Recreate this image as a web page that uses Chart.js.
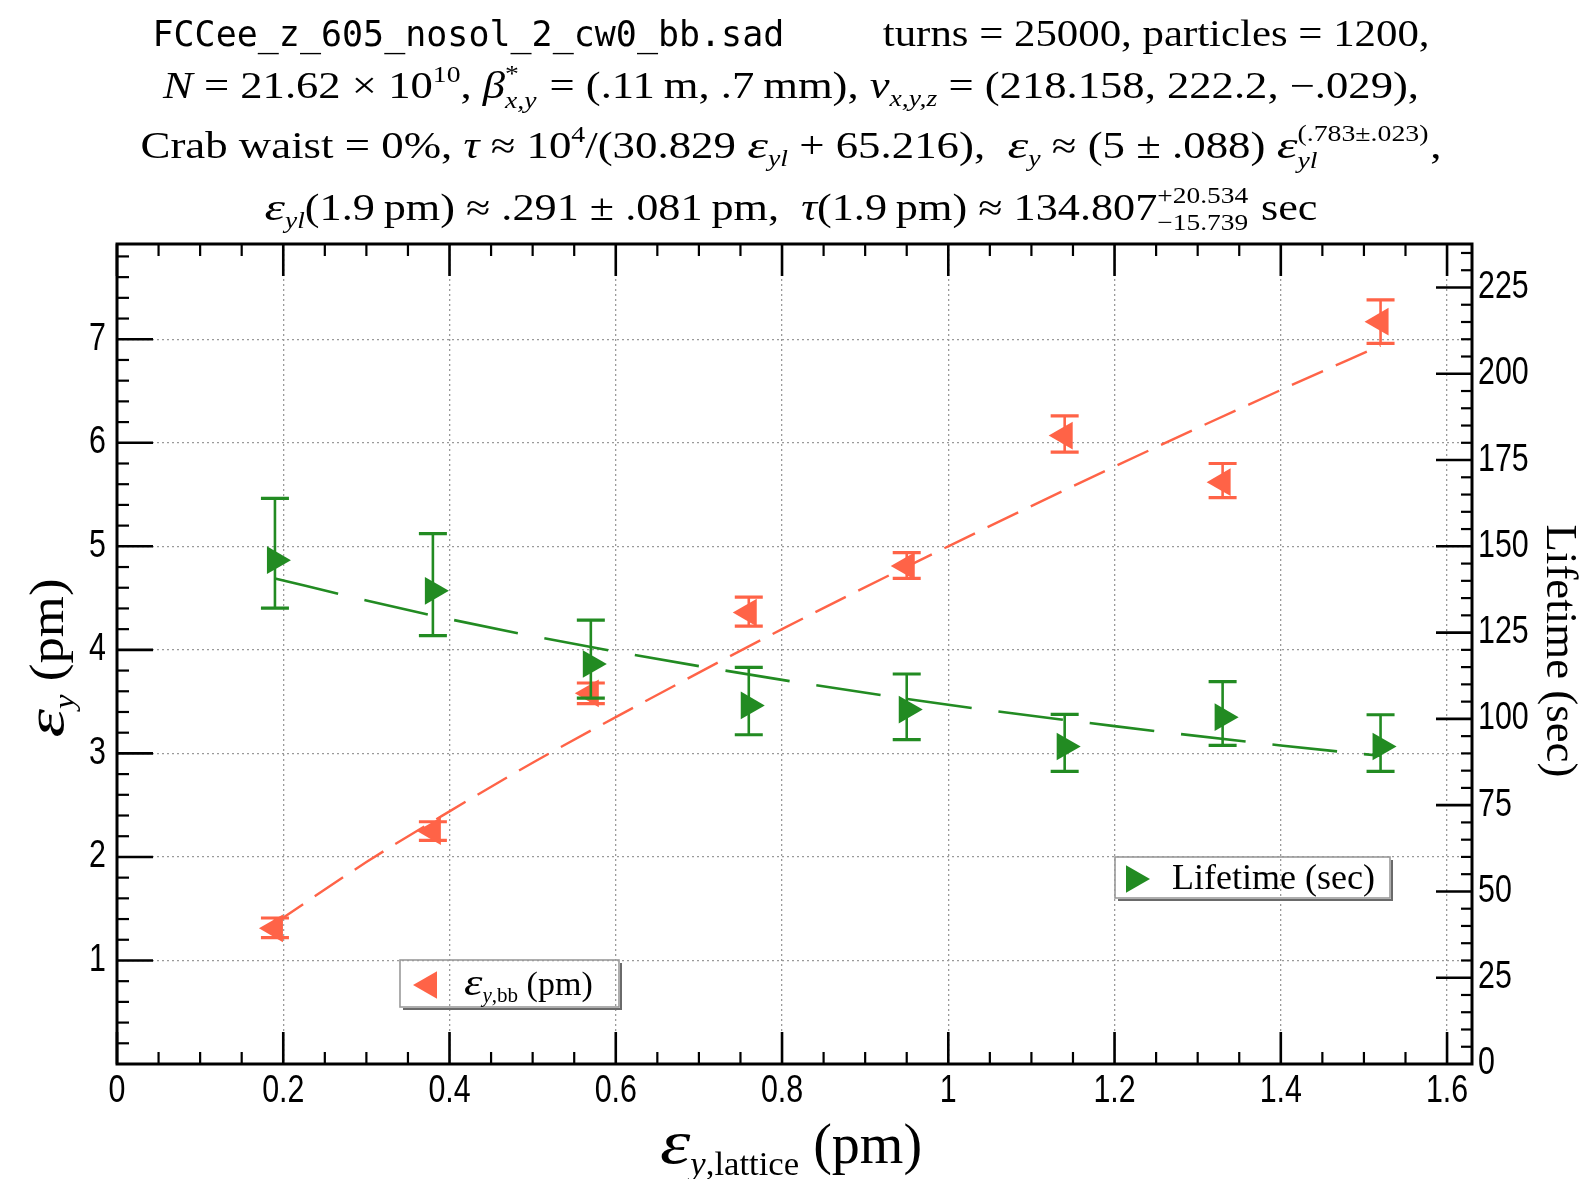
<!DOCTYPE html>
<html><head><meta charset="utf-8">
<script src="https://cdn.jsdelivr.net/npm/chart.js@4.4.1/dist/chart.umd.min.js"></script>
<style>html,body{margin:0;padding:0;background:#fff;overflow:hidden}#wrap{width:1579px;height:1179px;position:relative}</style>
</head><body><div id="wrap"><canvas id="c" width="1579" height="1179"></canvas></div>
<script>
// ---------------- data ----------------
const latticeEps = [0.19, 0.38, 0.57, 0.76, 0.95, 1.14, 1.33, 1.52];
const epsBB      = [1.31, 2.25, 3.58, 4.36, 4.81, 6.07, 5.62, 7.17];
const epsBBHi    = [1.41, 2.34, 3.68, 4.51, 4.94, 6.26, 5.80, 7.38];
const epsBBLo    = [1.22, 2.16, 3.48, 4.23, 4.69, 5.91, 5.47, 6.96];
const lifetime   = [146.0, 137.1, 115.9, 103.9, 102.7, 92.0, 100.5, 92.0];
const lifetimeHi = [163.9, 153.7, 128.6, 114.9, 113.0, 101.3, 110.8, 101.2];
const lifetimeLo = [132.1, 124.1, 106.0, 95.4, 94.0, 84.8, 92.3, 84.8];
const fitX        = [0.19, 0.3, 0.4, 0.5, 0.6, 0.8, 1.0, 1.2, 1.4, 1.52];
const fitEps      = [1.36, 1.95, 2.44, 2.91, 3.35, 4.20, 5.00, 5.77, 6.51, 6.94];
const fitLifetime = [140.7, 134.3, 128.9, 124.0, 119.5, 111.3, 104.1, 97.9, 92.3, 89.3];
const xTicks      = [0, 0.2, 0.4, 0.6, 0.8, 1, 1.2, 1.4, 1.6];
const xTickLabels = ['0', '0.2', '0.4', '0.6', '0.8', '1', '1.2', '1.4', '1.6'];
const yTicks      = [1, 2, 3, 4, 5, 6, 7];
const yTickLabels = ['1', '2', '3', '4', '5', '6', '7'];
const y2Ticks      = [0, 25, 50, 75, 100, 125, 150, 175, 200, 225];
const y2TickLabels = ['0', '25', '50', '75', '100', '125', '150', '175', '200', '225'];
const xRange = [0, 1.63], yRange = [0, 7.92], y2Range = [0, 237.6];
const seriesNames = ['ε_y,bb (pm)', 'Lifetime (sec)'];

// text pieces (i: italic, m: monospace, p: superscript, b: subscript, k: size factor, w: width stretch, gap: spacer in em)
const EPS_T = {t:'ε', i:1, k:1.05, w:1.12};
const titleLines = [
  [{t:'FCCee_z_605_nosol_2_cw0_bb.sad', m:1, k:0.95, w:0.86}, {gap:2.3}, {t:'turns = 25000, particles = 1200,'}],
  [{t:'N', i:1}, {t:' = 21.62 × 10'}, {t:'10', p:1}, {t:', '}, {t:'β', i:1}, {sup:'*', sub:'x,y', subI:1}, {t:' = (.11\u2009m, .7\u2009mm), '}, {t:'ν', i:1}, {t:'x,y,z', i:1, b:1}, {t:' = (218.158, 222.2, −.029),'}],
  [{t:'Crab waist = 0%, '}, {t:'τ', i:1}, {t:' ≈ 10'}, {t:'4', p:1}, {t:'/(30.829 '}, EPS_T, {t:'yl', i:1, b:1}, {t:' + 65.216),  '}, EPS_T, {t:'y', i:1, b:1}, {t:' ≈ (5 ± .088) '}, EPS_T, {sup:'(.783±.023)', sub:'yl', subI:1}, {t:','}],
  [EPS_T, {t:'yl', i:1, b:1}, {t:'(1.9\u2009pm) ≈ .291 ± .081\u2009pm,  '}, {t:'τ', i:1}, {t:'(1.9\u2009pm) ≈ 134.807'}, {sup:'+20.534', sub:'−15.739'}, {t:' sec'}]
];
const EPS_A = {t:'ε', i:1, k:1.1, w:1.25};
const xTitle  = [EPS_A, {t:'y', i:1, b:1}, {t:',lattice', b:1}, {t:' (pm)'}];
const yTitle  = [EPS_A, {t:'y', i:1, b:1}, {t:' (pm)'}];
const y2Title = [{t:'Lifetime (sec)'}];
const leg1 = [EPS_A, {t:'y', i:1, b:1}, {t:',bb', b:1}, {t:' (pm)'}];
const leg2 = [{t:'Lifetime (sec)'}];

// ---------------- style ----------------
const RED = '#FF6347', GREEN = '#228B22';
const SERIF = '"Liberation Serif","Times New Roman",serif';
const MONO = '"DejaVu Sans Mono",monospace';
const SANS = '"Liberation Sans",Arial,sans-serif';

function segFont(s, sz, it) { return (it ? 'italic ' : '') + sz.toFixed(2) + 'px ' + (s.m ? MONO : SERIF); }
function layoutRich(ctx, segs, size) {
  let w = 0; const items = [];
  for (const s of segs) {
    if (s.gap !== undefined) { w += s.gap * size; continue; }
    if (s.sup !== undefined) {
      const ss = size * 0.62;
      ctx.font = (s.supI ? 'italic ' : '') + ss + 'px ' + SERIF; const w1 = ctx.measureText(s.sup).width;
      ctx.font = (s.subI ? 'italic ' : '') + ss + 'px ' + SERIF; const w2 = ctx.measureText(s.sub).width;
      items.push({s, x: w, ss}); w += Math.max(w1, w2) + size * 0.04;
    } else {
      const sz = ((s.p || s.b) ? size * 0.62 : size) * (s.k || 1);
      ctx.font = segFont(s, sz, s.i); const ww = ctx.measureText(s.t).width * (s.w || 1);
      items.push({s, x: w, sz}); w += ww;
    }
  }
  return {items, w};
}
function drawRich(ctx, segs, size, x, y, o) {
  o = o || {};
  ctx.save(); ctx.translate(x, y); if (o.rot) ctx.rotate(o.rot);
  const L = layoutRich(ctx, segs, size);
  const sx = o.width ? o.width / L.w : (o.sx || 1);
  ctx.scale(sx, 1);
  const x0 = o.align === 'left' ? 0 : -L.w / 2;
  ctx.textBaseline = 'alphabetic'; ctx.textAlign = 'left'; ctx.fillStyle = '#000';
  for (const it of L.items) {
    const s = it.s;
    if (s.sup !== undefined) {
      ctx.font = (s.supI ? 'italic ' : '') + it.ss + 'px ' + SERIF; ctx.fillText(s.sup, x0 + it.x, -size * 0.45);
      ctx.font = (s.subI ? 'italic ' : '') + it.ss + 'px ' + SERIF; ctx.fillText(s.sub, x0 + it.x, size * 0.27);
    } else {
      ctx.font = segFont(s, it.sz, s.i);
      const dy = s.p ? -size * 0.42 : s.b ? size * 0.22 : 0;
      ctx.save(); ctx.translate(x0 + it.x, dy); ctx.scale(s.w || 1, 1);
      ctx.fillText(s.t, 0, 0); ctx.restore();
    }
  }
  ctx.restore();
}
function condText(ctx, txt, x, y, align, size, sx) {
  ctx.save(); ctx.translate(x, y); ctx.scale(sx, 1);
  ctx.font = size + 'px ' + SANS; ctx.fillStyle = '#000';
  ctx.textAlign = align; ctx.textBaseline = 'middle';
  ctx.fillText(txt, 0, 0); ctx.restore();
}
function tri(ctx, cx, cy, r, rotDeg, color) {
  let rad = rotDeg * Math.PI / 180;
  ctx.beginPath();
  ctx.moveTo(cx + Math.sin(rad) * r, cy - Math.cos(rad) * r);
  rad += 2 * Math.PI / 3; ctx.lineTo(cx + Math.sin(rad) * r, cy - Math.cos(rad) * r);
  rad += 2 * Math.PI / 3; ctx.lineTo(cx + Math.sin(rad) * r, cy - Math.cos(rad) * r);
  ctx.closePath(); ctx.fillStyle = color; ctx.fill();
}
function drawErr(chart, axisId, lo, hi, color) {
  const ctx = chart.ctx, xs = chart.scales.x, ys = chart.scales[axisId];
  ctx.save(); ctx.strokeStyle = color;
  latticeEps.forEach((xv, i) => {
    const px = xs.getPixelForValue(xv), p1 = ys.getPixelForValue(lo[i]), p2 = ys.getPixelForValue(hi[i]);
    ctx.lineWidth = 2.6; ctx.beginPath(); ctx.moveTo(px, p1); ctx.lineTo(px, p2); ctx.stroke();
    ctx.lineWidth = 3.2; ctx.beginPath();
    ctx.moveTo(px - 14, p1); ctx.lineTo(px + 14, p1);
    ctx.moveTo(px - 14, p2); ctx.lineTo(px + 14, p2); ctx.stroke();
  });
  ctx.restore();
}
function legendBox(ctx, x, y, w, h) {
  ctx.save();
  ctx.strokeStyle = '#6a6a6a'; ctx.lineWidth = 2;
  ctx.beginPath(); ctx.moveTo(x + 3, y + h + 2); ctx.lineTo(x + w + 2, y + h + 2); ctx.lineTo(x + w + 2, y + 3); ctx.stroke();
  ctx.strokeStyle = '#9a9a9a'; ctx.lineWidth = 1.6;
  ctx.strokeRect(x, y, w, h);
  ctx.restore();
}

const decor = {
  id: 'decor',
  beforeDatasetDraw(chart, args) {
    if (args.index === 2) drawErr(chart, 'y', epsBBLo, epsBBHi, RED);
    if (args.index === 3) drawErr(chart, 'y2', lifetimeLo, lifetimeHi, GREEN);
  },
  afterDraw(chart) {
    const ctx = chart.ctx, ca = chart.chartArea;
    const xs = chart.scales.x, ys = chart.scales.y, y2 = chart.scales.y2;
    ctx.save();
    ctx.strokeStyle = '#000';
    // x ticks (bottom and top)
    for (let k = 0; k <= 32; k++) {
      const v = k * 0.05; if (v > xRange[1]) break;
      const major = k % 4 === 0, len = major ? 32 : 12;
      const px = xs.getPixelForValue(v);
      ctx.lineWidth = major ? 2.6 : 2.2;
      ctx.beginPath();
      ctx.moveTo(px, ca.bottom); ctx.lineTo(px, ca.bottom - len);
      ctx.moveTo(px, ca.top); ctx.lineTo(px, ca.top + len);
      ctx.stroke();
    }
    // left ticks
    for (let k = 1; k <= 39; k++) {
      const v = k * 0.2; if (v > yRange[1]) break;
      const major = k % 5 === 0, len = major ? 36 : 12;
      const py = ys.getPixelForValue(v);
      ctx.lineWidth = major ? 2.6 : 2.2;
      ctx.beginPath(); ctx.moveTo(ca.left, py); ctx.lineTo(ca.left + len, py); ctx.stroke();
    }
    // right ticks
    for (let k = 1; k <= 47; k++) {
      const v = k * 5; if (v > y2Range[1]) break;
      const major = k % 5 === 0, len = major ? 36 : 11;
      const py = y2.getPixelForValue(v);
      ctx.lineWidth = major ? 2.6 : 2.2;
      ctx.beginPath(); ctx.moveTo(ca.right, py); ctx.lineTo(ca.right - len, py); ctx.stroke();
    }
    // frame
    ctx.lineWidth = 3;
    ctx.strokeRect(ca.left, ca.top, ca.right - ca.left, ca.bottom - ca.top);
    // tick labels
    xTicks.forEach((v, i) => condText(ctx, xTickLabels[i], xs.getPixelForValue(v), ca.bottom + 28, 'center', 38, 0.8));
    yTicks.forEach((v, i) => condText(ctx, yTickLabels[i], ca.left - 11, ys.getPixelForValue(v), 'right', 38, 0.8));
    y2Ticks.forEach((v, i) => condText(ctx, y2TickLabels[i], ca.right + 6, y2.getPixelForValue(v), 'left', 38, 0.8));
    // axis titles
    drawRich(ctx, xTitle, 56, 791, 1163, {});
    drawRich(ctx, yTitle, 48, 63, 658, {rot: -Math.PI / 2, sx: 1.1});
    drawRich(ctx, y2Title, 44, 1547, 651, {rot: Math.PI / 2, sx: 1.02});
    // title
    const tb = [46, 98, 158, 220], tw = [1277, 1256, 1301, 1053];
    titleLines.forEach((ln, i) => drawRich(ctx, ln, 37, 791, tb[i], {width: tw[i]}));
    // legends
    legendBox(ctx, 400, 960, 219, 47);
    tri(ctx, 429, 985, 16, -90, RED);
    drawRich(ctx, leg1, 34, 464, 995, {align: 'left'});
    legendBox(ctx, 1115, 857, 275, 41);
    tri(ctx, 1134, 879, 16, 90, GREEN);
    drawRich(ctx, leg2, 36, 1172, 889, {align: 'left'});
    ctx.restore();
  }
};

new Chart(document.getElementById('c'), {
  type: 'scatter',
  data: {
    datasets: [
      {label: 'fit ε', data: fitX.map((x, i) => ({x, y: fitEps[i]})), yAxisID: 'y', showLine: true, pointRadius: 0,
       borderColor: RED, borderWidth: 2.4, borderDash: [34, 14], cubicInterpolationMode: 'monotone', order: 3},
      {label: 'fit τ', data: fitX.map((x, i) => ({x, y: fitLifetime[i]})), yAxisID: 'y2', showLine: true, pointRadius: 0,
       borderColor: GREEN, borderWidth: 2.6, borderDash: [65, 27], cubicInterpolationMode: 'monotone', order: 2},
      {label: seriesNames[0], data: latticeEps.map((x, i) => ({x, y: epsBB[i]})), yAxisID: 'y', pointStyle: 'triangle',
       rotation: -90, pointRadius: 16, backgroundColor: RED, borderColor: RED, borderWidth: 0, order: 1},
      {label: seriesNames[1], data: latticeEps.map((x, i) => ({x, y: lifetime[i]})), yAxisID: 'y2', pointStyle: 'triangle',
       rotation: 90, pointRadius: 16, backgroundColor: GREEN, borderColor: GREEN, borderWidth: 0, order: 0}
    ]
  },
  options: {
    responsive: false, animation: false, devicePixelRatio: 1,
    layout: {padding: {left: 117, right: 107, top: 244, bottom: 115}},
    plugins: {legend: {display: false}, tooltip: {enabled: false}, title: {display: false}},
    scales: {
      x: {type: 'linear', min: xRange[0], max: xRange[1],
          afterBuildTicks: s => { s.ticks = xTicks.filter(v => v > 0).map(v => ({value: v})); },
          ticks: {display: false}, grid: {color: '#9a9a9a', lineWidth: 1.3, drawTicks: false},
          border: {display: false, dash: [2, 3]}},
      y: {type: 'linear', position: 'left', min: yRange[0], max: yRange[1],
          afterBuildTicks: s => { s.ticks = yTicks.map(v => ({value: v})); },
          ticks: {display: false}, grid: {color: '#9a9a9a', lineWidth: 1.3, drawTicks: false},
          border: {display: false, dash: [2, 3]}},
      y2: {type: 'linear', position: 'right', min: y2Range[0], max: y2Range[1],
          ticks: {display: false}, grid: {display: false, drawTicks: false}, border: {display: false}}
    }
  },
  plugins: [decor]
});
</script></body></html>
